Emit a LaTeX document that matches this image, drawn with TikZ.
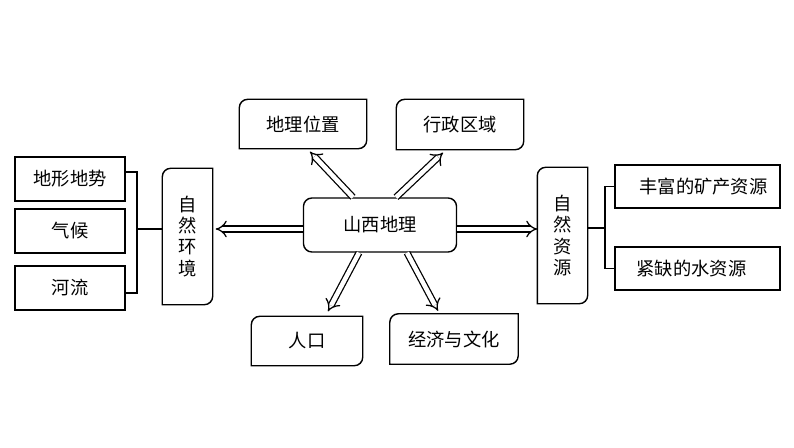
\documentclass[tikz,border=0pt]{standalone}
\usepackage{fontspec}
\setmainfont{Noto Sans CJK SC}
\usetikzlibrary{arrows.meta,calc}

\tikzset{
  box/.style={line width=1pt,inner sep=0pt,font=\fontsize{13pt}{15pt}\selectfont,align=center},
  plainbox/.style={box,draw},
  roundbox/.style={box,draw,rounded corners=6pt},
  dblarrow/.style={double,double distance=3.2pt,line width=0.9pt,-{Implies}},
  link/.style={line width=0.8pt}
}
% frame with two rounded corners (top left, bottom right)
\newcommand{\cutframe}[1]{%
  \draw[line width=1pt] (#1.south west) -- ([yshift=-6pt]#1.north west)
    arc[start angle=180,end angle=90,radius=6pt] -- (#1.north east)
    -- ([yshift=6pt]#1.south east)
    arc[start angle=0,end angle=-90,radius=6pt] -- cycle;}

\begin{document}
\begin{tikzpicture}[x=0.025cm,y=0.025cm]
\useasboundingbox (0,0) rectangle (794,-447);

\node[roundbox,minimum width=3.825cm,minimum height=1.35cm] (shanxi) at (380,-225) {山西地理};

\node[box,minimum width=3.15cm,minimum height=1.2cm] (dili) at (303,-124) {地理位置};
\node[box,minimum width=3.15cm,minimum height=1.225cm] (xingzheng) at (460,-124.5) {行政区域};
\node[box,minimum width=2.75cm,minimum height=1.2cm] (renkou) at (307,-341) {人口};
\node[box,minimum width=3.175cm,minimum height=1.225cm] (jingji) at (454,-339) {经济与文化};
\node[box,minimum width=1.225cm,minimum height=3.375cm] (huanjing) at (187.5,-236.5) {自\\然\\环\\境};
\node[box,minimum width=1.225cm,minimum height=3.375cm] (ziyuan) at (562.5,-235.5) {自\\然\\资\\源};
\cutframe{dili}
\cutframe{xingzheng}
\cutframe{renkou}
\cutframe{jingji}
\cutframe{huanjing}
\cutframe{ziyuan}

\node[plainbox,minimum width=2.75cm,minimum height=1.1cm] (dixing) at (70,-179) {地形地势};
\node[plainbox,minimum width=2.75cm,minimum height=1.1cm] (qihou) at (70,-231) {气候};
\node[plainbox,minimum width=2.75cm,minimum height=1.1cm] (heliu) at (70,-288) {河流};

\node[plainbox,minimum width=4.125cm,minimum height=1.075cm] (kuangchan) at (697.5,-186.5) {\hspace{0.3cm}丰富的矿产资源};
\node[plainbox,minimum width=4.125cm,minimum height=1.075cm] (shui) at (697.5,-268.5) {紧缺的水资源\hspace{0.3cm}};

% arrows from the centre box
\draw[dblarrow] ($(shanxi.north)+(-27,0)$) -- ($(dili.south)+(7,-3)$);
\draw[dblarrow] ($(shanxi.north)+(16,0)$) -- ($(xingzheng.south)+(-17,-3)$);
\draw[dblarrow] ($(shanxi.south)+(-21,0)$) -- ($(renkou.north)+(21,5)$);
\draw[dblarrow] ($(shanxi.south)+(27,0)$) -- ($(jingji.north)+(-16,3)$);
\draw[dblarrow] ($(shanxi.west)+(0,-4)$) -- ($(huanjing.east |- shanxi.west)+(3,-4)$);
\draw[dblarrow] ($(shanxi.east)+(0,-4)$) -- ($(ziyuan.west |- shanxi.west)+(0,-4)$);

% brackets
\coordinate (lb) at (137,-229);
\draw[link] ($(dixing.east)+(0,7)$) -| (lb) |- ($(heliu.east)+(0,-5)$);
\draw[link] (lb) -- (lb -| huanjing.west);
\coordinate (rb) at (605,-228);
\draw[link] (kuangchan.west) -| (rb) |- (shui.west);
\draw[link] (rb) -- (rb -| ziyuan.east);
\end{tikzpicture}
\end{document}
